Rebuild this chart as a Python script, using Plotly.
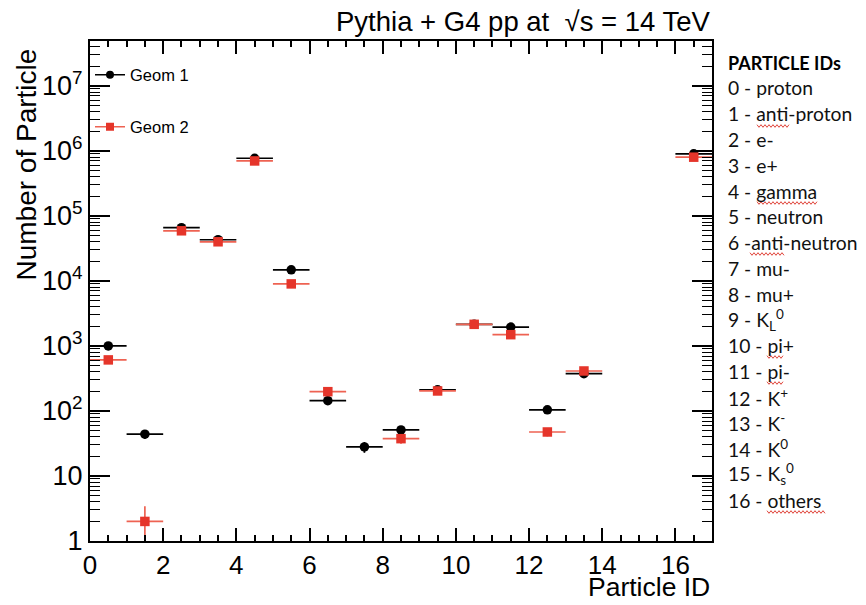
import numpy as np
import plotly.graph_objects as go

# Particle ID bins (bin centres) and counts per geometry
particle_id = [0.5, 1.5, 2.5, 3.5, 4.5, 5.5, 6.5, 7.5, 8.5, 9.5, 10.5, 11.5, 12.5, 13.5, 16.5]
geom1_counts = [1000, 44, 66000, 43000, 770000, 14800, 144, 28, 51, 212, 2150, 1950, 104, 375, 900000]
geom2_counts = [610, 2, 59000, 40000, 700000, 9000, 198, None, 37.5, 203, 2150, 1490, 47.5, 412, 800000]

legend_names = ["Geom 1", "Geom 2"]

y_tick_values = [1, 10, 100, 1e3, 1e4, 1e5, 1e6, 1e7]
y_tick_labels = ["1", "10", "10<sup>2</sup>", "10<sup>3</sup>", "10<sup>4</sup>",
                 "10<sup>5</sup>", "10<sup>6</sup>", "10<sup>7</sup>"]

id_legend_title = "<b>PARTICLE IDs</b>"
id_legend_lines = [
    "0 - proton", "1 - anti-proton", "2 - e-", "3 - e+", "4 - gamma", "5 - neutron",
    "6 -anti-neutron", "7 - mu-", "8 - mu+", "9 - K<sub>L</sub><sup>0</sup>", "10 - pi+",
    "11 - pi-", "12 - K<sup>+</sup>", "13 - K<sup>-</sup>", "14 - K<sup>0</sup>",
    "15 - K<sub>s</sub><sup>0</sup>", "16 - others",
]

BLACK = "#000000"
RED = "#e5352a"
RED_ERR = "#ee6252"
AXIS_FONT = "Liberation Sans, Arial, sans-serif"

# figure geometry (px)
W, H = 866, 605
ML, MR, MT, MB = 90, 154, 41, 64
PW, PH = W - ML - MR, H - MT - MB


def poisson_err(vals):
    return [None if v is None else float(np.sqrt(v)) for v in vals]


def px_to_paper(px, py):
    return (px - ML) / PW, (H - MB - py) / PH


def squiggle(x0, x1, y, step=2.0, amp=1.3):
    """Wavy spell-check underline, pixel coords converted to paper coords."""
    pts = []
    x, up = x0, True
    while x <= x1:
        pts.append(px_to_paper(x, y - amp if up else y + amp))
        x += step
        up = not up
    path = "M " + " L ".join(f"{a:.5f},{b:.5f}" for a, b in pts)
    return dict(type="path", path=path, xref="paper", yref="paper",
                line=dict(color="#e0443a", width=1))


fig = go.Figure()

for name, vals, col, ecol, sym, lg in [
    (legend_names[0], geom1_counts, BLACK, BLACK, "circle", "legend"),
    (legend_names[1], geom2_counts, RED, RED_ERR, "square", "legend2"),
]:
    fig.add_trace(go.Scatter(
        x=particle_id, y=vals, mode="markers", name=name, showlegend=False,
        marker=dict(color=col, symbol=sym, size=9.5, line=dict(width=0)),
        error_x=dict(type="constant", value=0.5, color=ecol, thickness=1.7, width=0),
        error_y=dict(type="data", array=poisson_err(vals), color=ecol, thickness=1.7, width=0),
    ))
    # legend entry: marker with horizontal bar
    fig.add_trace(go.Scatter(
        x=[None], y=[None], mode="lines+markers", name=name, legend=lg,
        marker=dict(color=col, symbol=sym, size=8),
        line=dict(color=ecol, width=1.6),
    ))

minor_y = [m * 10 ** d for d in range(0, 8) for m in range(2, 10)]

fig.update_xaxes(
    range=[0, 17], dtick=2, tick0=0,
    showline=True, linecolor="black", linewidth=2.2, mirror="ticks",
    ticks="inside", ticklen=13, tickwidth=1.6, tickcolor="black",
    minor=dict(dtick=0.5, tick0=0, ticks="inside", ticklen=6, tickwidth=1.5, tickcolor="black"),
    showgrid=False, zeroline=False,
    tickfont=dict(family=AXIS_FONT, size=26, color="black"),
    ticklabelstandoff=0,
)
fig.update_yaxes(
    type="log", range=[0, 7.69],
    tickmode="array", tickvals=y_tick_values, ticktext=y_tick_labels,
    showline=True, linecolor="black", linewidth=2.2, mirror="ticks",
    ticks="inside", ticklen=20, tickwidth=1.6, tickcolor="black",
    minor=dict(tickvals=minor_y, ticks="inside", ticklen=10, tickwidth=1.2, tickcolor="black"),
    showgrid=False, zeroline=False,
    tickfont=dict(family=AXIS_FONT, size=27, color="black"),
)

annotations = [
    dict(text="Pythia + G4 pp at  \u221As = 14 TeV", x=1, y=1.0, xref="paper", yref="paper",
         xanchor="right", yanchor="bottom", yshift=2, showarrow=False,
         font=dict(family=AXIS_FONT, size=27.5, color="black")),
    dict(text="Particle ID", x=1, y=px_to_paper(0, 604)[1], xref="paper", yref="paper",
         xanchor="right", yanchor="bottom", showarrow=False,
         font=dict(family=AXIS_FONT, size=26.5, color="black")),
    dict(text="Number of Particle", x=0, y=1, xref="paper", yref="paper",
         xanchor="right", yanchor="top", xshift=-47, yshift=-6, textangle=-90, showarrow=False,
         font=dict(family=AXIS_FONT, size=28, color="black")),
    dict(text=id_legend_title, x=1.0225, y=px_to_paper(0, 63)[1], xref="paper", yref="paper",
         xanchor="left", yanchor="middle", showarrow=False,
         font=dict(family="Lato, sans-serif", size=18, color="black")),
]
for i, line in enumerate(id_legend_lines):
    ypix = 88 + i * 25.75
    annotations.append(dict(
        text=line, x=1.0225, y=px_to_paper(0, ypix)[1], xref="paper", yref="paper",
        xanchor="left", yanchor="middle", showarrow=False,
        font=dict(family="Lato, sans-serif", size=19.3, color="#111111"),
    ))

# spell-check underlines in the particle ID list
shapes = [
    squiggle(757, 790, 126),
    squiggle(757, 818, 203),
    squiggle(750, 784, 254),
    squiggle(767, 784, 357),
    squiggle(767, 784, 383),
    squiggle(767, 826, 512),
]

legend_style = dict(x=0, xanchor="left", yanchor="middle", bgcolor="rgba(0,0,0,0)",
                    font=dict(family=AXIS_FONT, size=16.5, color="black"))

fig.update_layout(
    width=W, height=H,
    margin=dict(l=ML, r=MR, t=MT, b=MB),
    paper_bgcolor="white", plot_bgcolor="white",
    annotations=annotations,
    shapes=shapes,
    legend=dict(y=px_to_paper(0, 75)[1], **legend_style),
    legend2=dict(y=px_to_paper(0, 127)[1], **legend_style),
)

fig.write_html("out.html")
